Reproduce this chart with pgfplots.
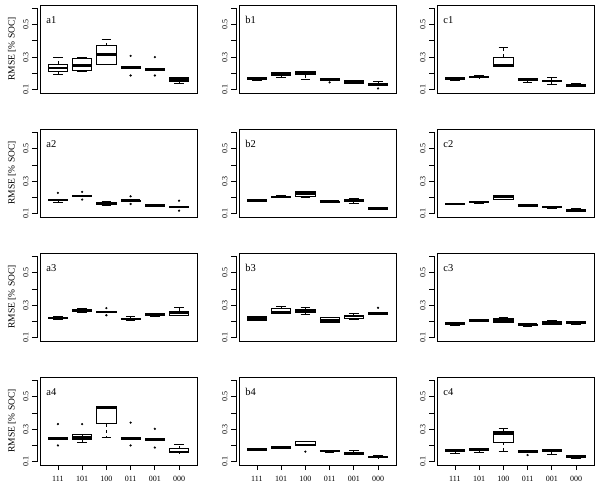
\documentclass[border=0pt]{standalone}
\usepackage{fontspec}
\setmainfont{Liberation Serif}
\usepackage{pgfplots}
\pgfplotsset{compat=1.18}
\usepgfplotslibrary{statistics}

% one box: position, lower whisker, lower quartile, median, upper quartile, upper whisker
\newcommand{\bx}[6]{\addplot[black, line width=0.75pt, boxplot prepared={draw position=#1,
  lower whisker=#2, lower quartile=#3, median=#4, upper quartile=#5, upper whisker=#6}] coordinates {};}
\newcommand{\outl}[1]{\addplot[only marks, black, mark=*, mark size=0.9pt] coordinates {#1};}
\newcommand{\plab}[1]{\node[anchor=base west, inner sep=0pt, font=\fontsize{10.5}{12}\selectfont]
  at (axis description cs:0.04,0.795) {#1};}

\pgfplotsset{
  panel/.style={
    scale only axis, width=157pt, height=88pt,
    anchor=south west,
    xmin=0.26, xmax=6.74, ymin=0.08, ymax=0.62,
    axis x line=bottom, axis y line=left,
    axis y line shift=3pt,
    x axis line style={draw=none},
    y axis line style={draw=none},
    tick align=outside, major tick length=5pt,
    tick style={black, line width=0.7pt},
    ytick={0.1,0.2,0.3,0.4,0.5,0.6},
    yticklabels={0.1,,0.3,,0.5,},
    yticklabel style={rotate=90, anchor=south, font=\fontsize{8}{9}\selectfont},
    xtick=\empty,
    boxplot/draw direction=y,
    boxplot/box extend=0.8,
    boxplot/whisker extend=0.4,
    boxplot/every median/.style={line width=2.6pt},
    boxplot/draw/lower whisker/.code={%
      \draw[black, line width=0.75pt, dash pattern=on 3pt off 3pt]
        (boxplot box cs:\pgfplotsboxplotvalue{lower quartile},0.5) --
        (boxplot box cs:\pgfplotsboxplotvalue{lower whisker},0.5);
      \draw[black, line width=0.75pt]
        (boxplot whisker cs:\pgfplotsboxplotvalue{lower whisker},0) --
        (boxplot whisker cs:\pgfplotsboxplotvalue{lower whisker},1);
    },
    boxplot/draw/upper whisker/.code={%
      \draw[black, line width=0.75pt, dash pattern=on 3pt off 3pt]
        (boxplot box cs:\pgfplotsboxplotvalue{upper quartile},0.5) --
        (boxplot box cs:\pgfplotsboxplotvalue{upper whisker},0.5);
      \draw[black, line width=0.75pt]
        (boxplot whisker cs:\pgfplotsboxplotvalue{upper whisker},0) --
        (boxplot whisker cs:\pgfplotsboxplotvalue{upper whisker},1);
    },
    after end axis/.code={
      \draw[line width=0.8pt] (rel axis cs:0,0) rectangle (rel axis cs:1,1);
      \draw[line width=0.7pt] ([xshift=-3pt]rel axis cs:0,0.037) -- ([xshift=-3pt]rel axis cs:0,0.963);
    },
  },
  leftcol/.style={ylabel={RMSE [\% SOC]},
    ylabel style={at={(axis description cs:-0.178,0.5)}, anchor=center,
      font=\fontsize{9.5}{11}\selectfont}},
  bottomrow/.style={xtick={1,2,3,4,5,6}, xticklabels={111,101,100,011,001,000},
    xticklabel style={font=\fontsize{8}{9}\selectfont, yshift=-3pt}},
}

\begin{document}
\begin{tikzpicture}
\path[use as bounding box] (0,0) rectangle (600pt,-489pt);

% ---------- row 1 ----------
\begin{axis}[panel, leftcol, at={(40pt,-93pt)}]
\bx{1}{0.196}{0.21}{0.233}{0.256}{0.30}
\bx{2}{0.215}{0.217}{0.25}{0.292}{0.298}
\bx{3}{0.256}{0.256}{0.315}{0.371}{0.41}
\bx{4}{0.232}{0.232}{0.2375}{0.242}{0.242}
\bx{5}{0.22}{0.22}{0.225}{0.23}{0.23}
\bx{6}{0.142}{0.15}{0.162}{0.175}{0.178}
\outl{(4,0.308) (4,0.1875) (5,0.30) (5,0.1875)}
\plab{a1}
\end{axis}

\begin{axis}[panel, at={(239pt,-93pt)}]
\bx{1}{0.158}{0.163}{0.169}{0.175}{0.177}
\bx{2}{0.175}{0.19}{0.196}{0.205}{0.208}
\bx{3}{0.163}{0.192}{0.2}{0.21}{0.213}
\bx{4}{0.158}{0.16}{0.165}{0.17}{0.172}
\bx{5}{0.138}{0.14}{0.148}{0.155}{0.157}
\bx{6}{0.125}{0.128}{0.131}{0.135}{0.15}
\outl{(4,0.145) (6,0.108)}
\plab{b1}
\end{axis}

\begin{axis}[panel, at={(437pt,-93pt)}]
\bx{1}{0.156}{0.165}{0.171}{0.176}{0.178}
\bx{2}{0.173}{0.175}{0.179}{0.185}{0.186}
\bx{3}{0.242}{0.243}{0.248}{0.30}{0.36}
\bx{4}{0.146}{0.157}{0.1625}{0.168}{0.17}
\bx{5}{0.133}{0.15}{0.154}{0.158}{0.175}
\bx{6}{0.118}{0.12}{0.127}{0.135}{0.14}
\plab{c1}
\end{axis}

% ---------- row 2 ----------
\begin{axis}[panel, leftcol, at={(40pt,-217pt)}]
\bx{1}{0.17}{0.182}{0.185}{0.188}{0.19}
\bx{2}{0.205}{0.205}{0.21}{0.215}{0.215}
\bx{3}{0.152}{0.155}{0.162}{0.17}{0.176}
\bx{4}{0.175}{0.175}{0.18}{0.185}{0.185}
\bx{5}{0.146}{0.146}{0.15}{0.155}{0.16}
\bx{6}{0.137}{0.137}{0.141}{0.145}{0.145}
\outl{(1,0.228) (2,0.234) (2,0.187) (4,0.207) (4,0.16) (6,0.18) (6,0.119)}
\plab{a2}
\end{axis}

\begin{axis}[panel, at={(239pt,-217pt)}]
\bx{1}{0.174}{0.176}{0.18}{0.186}{0.188}
\bx{2}{0.198}{0.2}{0.203}{0.208}{0.21}
\bx{3}{0.2}{0.207}{0.224}{0.238}{0.24}
\bx{4}{0.168}{0.17}{0.174}{0.178}{0.183}
\bx{5}{0.162}{0.176}{0.183}{0.19}{0.195}
\bx{6}{0.125}{0.125}{0.131}{0.14}{0.14}
\plab{b2}
\end{axis}

\begin{axis}[panel, at={(437pt,-217pt)}]
\bx{1}{0.155}{0.157}{0.16}{0.163}{0.164}
\bx{2}{0.166}{0.168}{0.172}{0.175}{0.176}
\bx{3}{0.187}{0.189}{0.203}{0.213}{0.215}
\bx{4}{0.143}{0.145}{0.15}{0.155}{0.156}
\bx{5}{0.135}{0.137}{0.141}{0.145}{0.146}
\bx{6}{0.113}{0.115}{0.119}{0.123}{0.133}
\plab{c2}
\end{axis}

% ---------- row 3 ----------
\begin{axis}[panel, leftcol, at={(40pt,-341pt)}]
\bx{1}{0.215}{0.216}{0.222}{0.228}{0.229}
\bx{2}{0.253}{0.263}{0.27}{0.277}{0.282}
\bx{3}{0.255}{0.255}{0.259}{0.263}{0.263}
\bx{4}{0.208}{0.21}{0.214}{0.218}{0.23}
\bx{5}{0.23}{0.235}{0.24}{0.247}{0.25}
\bx{6}{0.236}{0.238}{0.253}{0.263}{0.284}
\outl{(3,0.282) (3,0.238)}
\plab{a3}
\end{axis}

\begin{axis}[panel, at={(239pt,-341pt)}]
\bx{1}{0.205}{0.207}{0.218}{0.232}{0.234}
\bx{2}{0.247}{0.247}{0.257}{0.278}{0.29}
\bx{3}{0.245}{0.253}{0.267}{0.275}{0.284}
\bx{4}{0.196}{0.197}{0.205}{0.226}{0.228}
\bx{5}{0.21}{0.218}{0.234}{0.24}{0.247}
\bx{6}{0.243}{0.245}{0.251}{0.256}{0.258}
\outl{(6,0.284)}
\plab{b3}
\end{axis}

\begin{axis}[panel, at={(437pt,-341pt)}]
\bx{1}{0.176}{0.183}{0.189}{0.193}{0.195}
\bx{2}{0.198}{0.2}{0.207}{0.212}{0.213}
\bx{3}{0.196}{0.197}{0.207}{0.218}{0.224}
\bx{4}{0.17}{0.175}{0.18}{0.185}{0.186}
\bx{5}{0.18}{0.185}{0.195}{0.2}{0.205}
\bx{6}{0.184}{0.186}{0.193}{0.197}{0.198}
\plab{c3}
\end{axis}

% ---------- row 4 ----------
\begin{axis}[panel, leftcol, bottomrow, at={(40pt,-465pt)}]
\bx{1}{0.24}{0.24}{0.245}{0.25}{0.25}
\bx{2}{0.216}{0.238}{0.249}{0.265}{0.266}
\bx{3}{0.25}{0.333}{0.433}{0.437}{0.437}
\bx{4}{0.24}{0.24}{0.245}{0.25}{0.25}
\bx{5}{0.234}{0.234}{0.238}{0.242}{0.242}
\bx{6}{0.155}{0.156}{0.16}{0.18}{0.207}
\outl{(1,0.331) (1,0.2) (2,0.331) (4,0.34) (4,0.2) (5,0.302) (5,0.187)}
\plab{a4}
\end{axis}

\begin{axis}[panel, bottomrow, at={(239pt,-465pt)}]
\bx{1}{0.169}{0.17}{0.174}{0.178}{0.179}
\bx{2}{0.183}{0.185}{0.189}{0.193}{0.197}
\bx{3}{0.2}{0.2}{0.203}{0.224}{0.225}
\bx{4}{0.16}{0.162}{0.166}{0.17}{0.172}
\bx{5}{0.144}{0.146}{0.15}{0.154}{0.17}
\bx{6}{0.125}{0.126}{0.129}{0.132}{0.141}
\outl{(3,0.162)}
\plab{b4}
\end{axis}

\begin{axis}[panel, bottomrow, at={(437pt,-465pt)}]
\bx{1}{0.154}{0.166}{0.17}{0.175}{0.177}
\bx{2}{0.158}{0.172}{0.176}{0.181}{0.183}
\bx{3}{0.166}{0.22}{0.274}{0.286}{0.302}
\bx{4}{0.158}{0.16}{0.164}{0.168}{0.169}
\bx{5}{0.145}{0.165}{0.17}{0.175}{0.176}
\bx{6}{0.122}{0.127}{0.133}{0.137}{0.139}
\outl{(4,0.141)}
\plab{c4}
\end{axis}
\end{tikzpicture}
\end{document}
